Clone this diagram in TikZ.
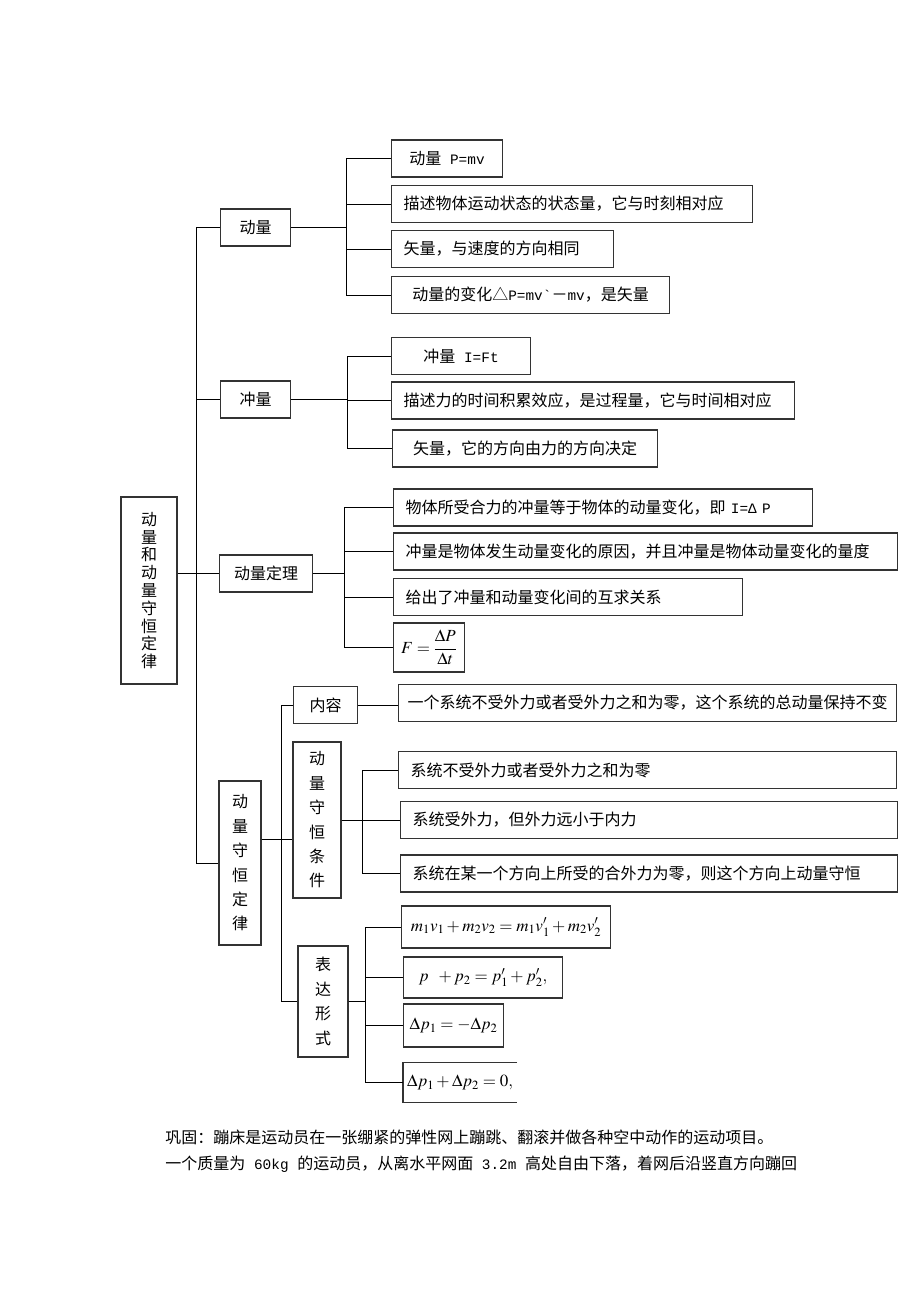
\documentclass[tikz,border=0pt]{standalone}
\usepackage{mathptmx}
\usepackage[no-math]{fontspec}
\setmainfont{Noto Sans CJK SC}
\newfontfamily\lat[Scale=0.9]{Liberation Mono}
\tikzset{
  box/.style={draw=black!80, line width=1.1pt, minimum height=37pt, inner xsep=12pt, anchor=west},
  lbox/.style={box, align=left, text width=#1},
  fbox/.style={box, inner xsep=2pt, font=\fontsize{17}{20}\selectfont},
  vbox/.style={draw=black!80, line width=1.1pt, align=center, inner sep=0pt, font=\fontsize{16}{24.4}\selectfont},
  edge/.style={draw=black!80, line width=1.1pt}
}

\begin{document}
\begin{tikzpicture}[x=1pt, y=-1pt, line width=0.9pt, font=\fontsize{16}{19}\selectfont]
\fill[white] (0,0) rectangle (920,1302);

\node[vbox, minimum width=56pt, minimum height=187pt, font=\fontsize{16}{17.8}\selectfont] (law) at (149,590.5) {动\\量\\和\\动\\量\\守\\恒\\定\\律};
\node[box, minimum width=70pt] (mom) at (220,227.5) {动量};
\node[box, minimum width=70pt] (imp) at (220,399.5) {冲量};
\node[box, minimum width=93pt] (thm) at (219,573.5) {动量定理};
\node[vbox, minimum width=42pt, minimum height=164pt] (cons) at (240,863) {动\\量\\守\\恒\\定\\律};

\node[box, minimum width=111pt] (m1) at (391,158.5) {动量{\lat{} P=mv}};
\node[lbox=337pt] (m2) at (391,204) {描述物体运动状态的状态量，它与时刻相对应};
\node[lbox=198pt] (m3) at (391,249) {矢量，与速度的方向相同};
\node[box, minimum width=278pt, inner xsep=6pt] (m4) at (391,295) {动量的变化△{\lat P=mv\symbol{96}}－{\lat mv}，是矢量};

\node[box, minimum width=139pt] (i1) at (391,356) {冲量{\lat{} I=Ft}};
\node[lbox=379pt] (i2) at (391,400.5) {描述力的时间积累效应，是过程量，它与时间相对应};
\node[box, minimum width=265pt] (i3) at (392,448.5) {矢量，它的方向由力的方向决定};

\node[lbox=395pt] (t1) at (393,507.5) {物体所受合力的冲量等于物体的动量变化，即{\lat{} I=Δ P}};
\node[lbox=480pt] (t2) at (393,551.5) {冲量是物体发生动量变化的原因，并且冲量是物体动量变化的量度};
\node[lbox=325pt] (t3) at (393,597) {给出了冲量和动量变化间的互求关系};
\node[fbox, minimum width=71pt, minimum height=49pt] (t4) at (393,647.5) {$F=\displaystyle\frac{\Delta P}{\Delta t}$};

\node[box, minimum width=64pt] (c1) at (293,705) {内容};
\node[box, minimum width=498pt, inner xsep=8pt] (c1r) at (398,703) {一个系统不受外力或者受外力之和为零，这个系统的总动量保持不变};
\node[vbox, minimum width=48pt, minimum height=156pt] (c2) at (317,820) {动\\量\\守\\恒\\条\\件};
\node[vbox, minimum width=50pt, minimum height=111pt, font=\fontsize{16}{24.7}\selectfont] (c3) at (323,1001.5) {表\\达\\形\\式};

\node[lbox=474pt] (k1) at (398,770) {系统不受外力或者受外力之和为零};
\node[lbox=473pt] (k2) at (400,820) {系统受外力，但外力远小于内力};
\node[lbox=473pt] (k3) at (400,873.5) {系统在某一个方向上所受的合外力为零，则这个方向上动量守恒};

\node[fbox, minimum width=209pt, minimum height=42pt] (f1) at (401,927) {$m_1v_1+m_2v_2=m_1v_1'+m_2v_2'$};
\node[fbox, minimum width=159pt, minimum height=41pt] (f2) at (403,977.5) {$p\ \ +p_2=p_1'+p_2',$};
\node[fbox, minimum width=100pt, minimum height=43pt] (f3) at (403,1025.5) {$\Delta p_1=-\Delta p_2$};
\node[fbox, draw=none, minimum width=113pt, minimum height=39pt] (f4) at (403,1082.5) {$\Delta p_1+\Delta p_2=0,$};
\draw[edge] (f4.north east) -- (f4.north west) -- (f4.south west) -- (f4.south east);

\coordinate (tk) at (196,0);
\draw (mom.west) -| (tk |- cons.west) -- (cons.west);
\draw (imp.west) -- (imp.west -| tk);
\draw (law.east |- thm.west) -- (thm.west);

\coordinate (b1) at (346,0);
\foreach \n in {m1,m2,m3,m4} \draw (mom.east) -| (b1 |- \n.west) -- (\n.west);
\coordinate (b2) at (347,0);
\foreach \n in {i1,i2,i3} \draw (imp.east) -| (b2 |- \n.west) -- (\n.west);
\coordinate (b3) at (344,0);
\foreach \n in {t1,t2,t3,t4} \draw (thm.east) -| (b3 |- \n.west) -- (\n.west);

\coordinate (b4) at (281,0);
\draw ([yshift=24pt]cons.east) coordinate (ce) -- (ce -| c2.west);
\draw (c1.west) -| (b4 |- c3.west) -- (c3.west);
\draw (c1.east) -- (c1.east -| c1r.west);
\coordinate (b5) at (362,0);
\foreach \n in {k1,k2,k3} \draw (c2.east) -| (b5 |- \n.west) -- (\n.west);
\coordinate (b6) at (365,0);
\foreach \n in {f1,f2,f3,f4} \draw (c3.east) -| (b6 |- \n.west) -- (\n.west);

\node[anchor=west, inner sep=0pt] (q1) at (165,1137) {巩固：蹦床是运动员在一张绷紧的弹性网上蹦跳、翻滚并做各种空中动作的运动项目。};
\node[anchor=west, inner sep=0pt] (q2) at (165,1164) {一个质量为{\lat{} 60kg }的运动员，从离水平网面{\lat{} 3.2m }高处自由下落，着网后沿竖直方向蹦回};
\end{tikzpicture}
\end{document}
